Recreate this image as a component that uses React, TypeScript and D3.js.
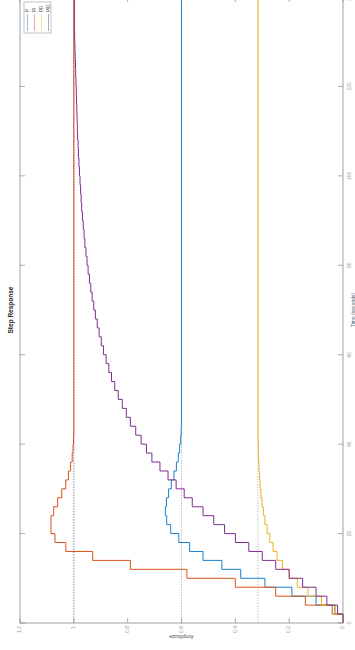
import React from "react";
import * as d3 from "d3";

const sampleTime = 2;
const seriesNames = ["P", "PI", "PD", "PID"];
const seriesColors = ["#1a80cc", "#D95319", "#EDB120", "#7E2F8E"];
const finalValues = [0.6, 1, 0.316, 1];

const pValues = [0, 0.03, 0.1, 0.19, 0.29, 0.38, 0.45, 0.52, 0.57, 0.61, 0.64, 0.655, 0.66, 0.656, 0.648, 0.638, 0.628, 0.619, 0.612, 0.607, 0.603, 0.601, 0.6];
const piValues = [0, 0.04, 0.14, 0.25, 0.4, 0.58, 0.79, 0.93, 1.03, 1.07, 1.085, 1.085, 1.075, 1.06, 1.045, 1.03, 1.02, 1.012, 1.006, 1.003, 1.001, 1];
const pdValues = [0, 0.03, 0.08, 0.13, 0.17, 0.2, 0.225, 0.245, 0.26, 0.272, 0.282, 0.29, 0.296, 0.301, 0.305, 0.308, 0.31, 0.312, 0.3135, 0.3145, 0.315, 0.316];
const pidValues = [0, 0.02, 0.06, 0.1, 0.15, 0.2, 0.25, 0.3, 0.35, 0.4, 0.44, 0.48, 0.52, 0.56, 0.59, 0.62, 0.65, 0.68, 0.71, 0.73, 0.75, 0.77, 0.79, 0.805, 0.82, 0.835, 0.848, 0.86, 0.87, 0.88, 0.89, 0.898, 0.906, 0.913, 0.92, 0.926, 0.932, 0.937, 0.942, 0.947, 0.951, 0.955, 0.959, 0.962, 0.965, 0.968, 0.971, 0.973, 0.975, 0.977, 0.979, 0.981, 0.983, 0.984, 0.986, 0.987, 0.988, 0.989, 0.99, 0.991, 0.992, 0.993, 0.994, 0.995, 0.996, 0.997, 0.998];
const allSeries = [pValues, piValues, pdValues, pidValues];

const timeTicks = [0, 20, 40, 60, 80, 100, 120, 140];
const ampTicks = [0, 0.2, 0.4, 0.6, 0.8, 1, 1.2];
const ampTickLabels = ["0", "0.2", "0.4", "0.6", "0.8", "1", "1.2"];

const W = 626;
const H = 323;
const OX = 20;
const OY = 623;

export default function App() {
  const x = d3.scaleLinear().domain([0, 140]).range([0, W]);
  const y = d3.scaleLinear().domain([0, 1.2]).range([H, 0]);
  const line = d3
    .line<[number, number]>()
    .x((d) => x(d[0]))
    .y((d) => y(d[1]))
    .curve(d3.curveStepAfter);

  const paths = allSeries.map((vals) => {
    const pts: [number, number][] = vals.map((v, k) => [k * sampleTime, v]);
    pts.push([140, vals[vals.length - 1]]);
    return line(pts) || "";
  });

  const font = "Helvetica, Arial, 'Liberation Sans', sans-serif";
  return (
    <svg
      width={355}
      height={650}
      style={{ position: "absolute", left: 0, top: 0, background: "#fff" }}
      fontFamily={font}
    >
      <rect width={355} height={650} fill="#fff" />
      <g transform={`translate(${OX},${OY}) rotate(-90)`}>
        {finalValues.map((fv, i) => (
          <line
            key={"ss" + i}
            x1={0}
            x2={W}
            y1={y(fv)}
            y2={y(fv)}
            stroke="#666"
            strokeWidth={0.5}
            strokeDasharray="1.2,1.5"
          />
        ))}
        {paths.map((d, i) => (
          <path key={"p" + i} d={d} fill="none" stroke={seriesColors[i]} strokeWidth={1} />
        ))}
        <rect x={0} y={0} width={W} height={H} fill="none" stroke="#888" strokeWidth={0.8} />
        {timeTicks.map((t) => (
          <g key={"tt" + t}>
            <line x1={x(t)} x2={x(t)} y1={H} y2={H - 5} stroke="#888" strokeWidth={0.7} />
            <line x1={x(t)} x2={x(t)} y1={0} y2={5} stroke="#888" strokeWidth={0.7} />
            <text x={x(t)} y={H + 4} fontSize={5} fill="#999" textAnchor="middle" dominantBaseline="hanging">
              {t}
            </text>
          </g>
        ))}
        {ampTicks.map((a, i) => (
          <g key={"at" + i}>
            <line x1={0} x2={5} y1={y(a)} y2={y(a)} stroke="#888" strokeWidth={0.7} />
            <line x1={W} x2={W - 5} y1={y(a)} y2={y(a)} stroke="#888" strokeWidth={0.7} />
            <text x={-3} y={y(a)} fontSize={5} fill="#999" textAnchor="end" dominantBaseline="middle">
              {ampTickLabels[i]}
            </text>
          </g>
        ))}
        <text x={W / 2} y={-7} fontSize={6.5} fontWeight="bold" fill="#222" textAnchor="middle">
          Step Response
        </text>
        <text x={W / 2} y={H + 11.5} fontSize={5} fill="#555" textAnchor="middle">
          Time (seconds)
        </text>
        <text
          transform={`translate(-12,${H / 2}) rotate(-90)`}
          fontSize={5.5}
          fill="#555"
          textAnchor="middle"
        >
          Amplitude
        </text>
        <g>
          <rect x={590} y={4} width={31} height={27} fill="#fff" stroke="#999" strokeWidth={0.6} />
          {seriesNames.map((n, i) => (
            <g key={"lg" + i}>
              <line
                x1={592}
                x2={609}
                y1={7.5 + i * 7}
                y2={7.5 + i * 7}
                stroke={seriesColors[i]}
                strokeWidth={0.8}
                opacity={0.6}
              />
              <text x={611} y={7.5 + i * 7} fontSize={4.5} fill="#555" dominantBaseline="middle">
                {n}
              </text>
            </g>
          ))}
        </g>
      </g>
    </svg>
  );
}
